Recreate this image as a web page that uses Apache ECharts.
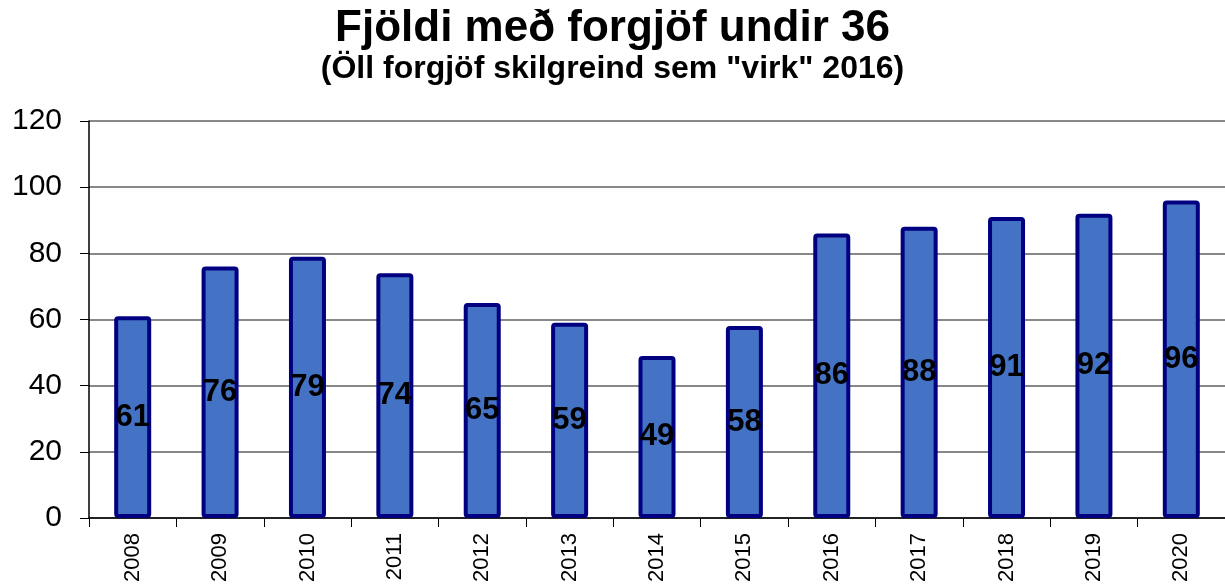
<!DOCTYPE html>
<html>
<head>
<meta charset="utf-8">
<script src="https://cdn.jsdelivr.net/npm/echarts@6/dist/echarts.min.js"></script>
<style>
  html, body { margin: 0; padding: 0; background: #fff; }
  #chart { width: 1225px; height: 587px; }
</style>
</head>
<body>
<div id="chart"></div>
<script>
// ár og fjöldi
const years = ['2008', '2009', '2010', '2011', '2012', '2013', '2014', '2015', '2016', '2017', '2018', '2019', '2020'];
const counts = [61, 76, 79, 74, 65, 59, 49, 58, 86, 88, 91, 92, 96];
const yTicks = { min: 0, max: 120, step: 20 };

const chart = echarts.init(document.getElementById('chart'));
const option = {
  animation: false,
  title: {
    text: 'Fjöldi með forgjöf undir 36',
    subtext: '(Öll forgjöf skilgreind sem "virk" 2016)',
    left: 'center',
    top: 2,
    itemGap: 2,
    textStyle: { fontFamily: 'Liberation Sans', fontWeight: 'bold', fontSize: 44, color: '#000' },
    subtextStyle: { fontFamily: 'Liberation Sans', fontWeight: 'bold', fontSize: 32, color: '#000' }
  },
  grid: { left: 89, right: -8, top: 121, bottom: 69 },
  xAxis: {
    type: 'category',
    data: years,
    axisLine: { lineStyle: { color: '#000', width: 1.5 } },
    axisTick: { show: true, length: 9, lineStyle: { color: '#000' } },
    axisLabel: { rotate: 90, fontFamily: 'Liberation Sans', fontSize: 22, color: '#000', margin: 15 }
  },
  yAxis: {
    type: 'value',
    min: yTicks.min,
    max: yTicks.max,
    interval: yTicks.step,
    axisLine: { show: true, lineStyle: { color: '#000', width: 1.5 } },
    axisTick: { show: true, length: 9, lineStyle: { color: '#000' } },
    axisLabel: { fontFamily: 'Liberation Sans', fontSize: 30, color: '#000', margin: 27 },
    splitLine: { lineStyle: { color: '#606060', width: 1.5 } }
  },
  series: [{
    type: 'bar',
    data: counts,
    barWidth: 37,
    itemStyle: { color: '#4472C4', borderColor: '#000080', borderWidth: 4, borderRadius: 2 },
    label: {
      show: true,
      position: 'inside',
      fontFamily: 'Liberation Sans',
      fontWeight: 'bold',
      fontSize: 31,
      color: '#000'
    }
  }]
};
chart.setOption(option);
</script>
</body>
</html>
